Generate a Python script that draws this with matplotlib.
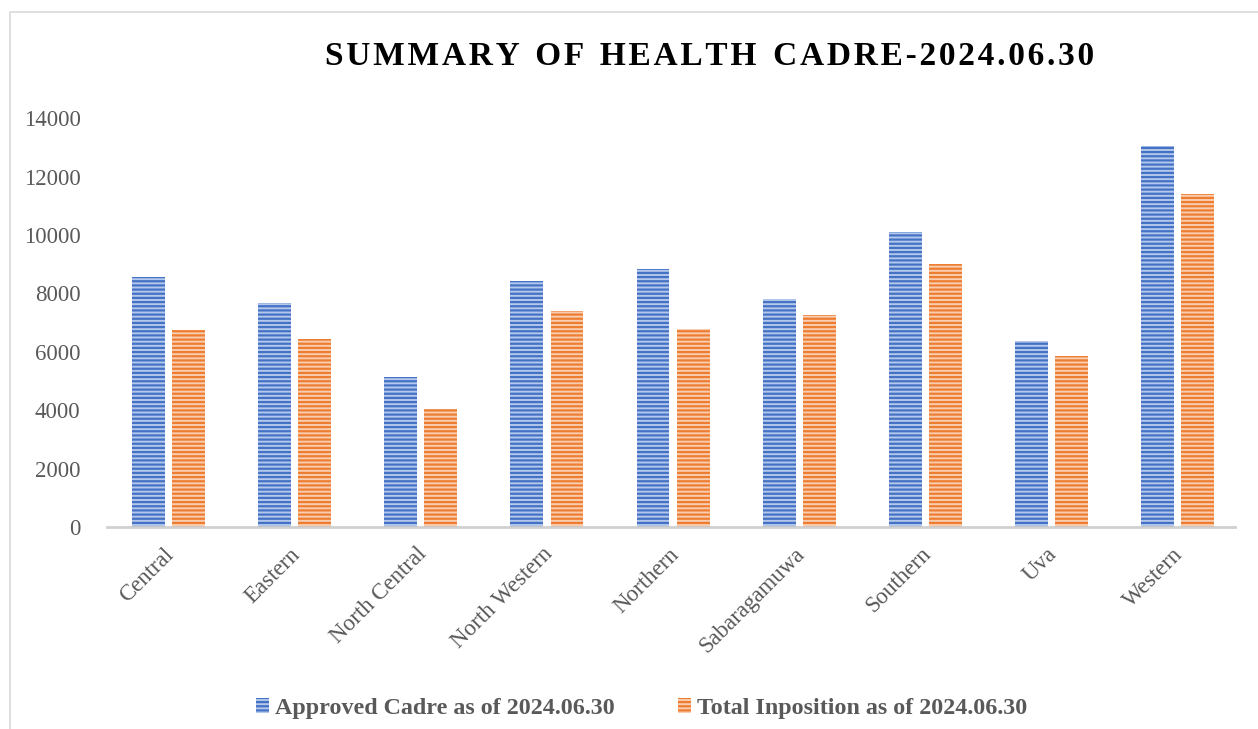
import matplotlib.pyplot as plt
import matplotlib.transforms as mtransforms
import numpy as np
from matplotlib.patches import Rectangle, Patch

regions = ["Central", "Eastern", "North Central", "North Western", "Northern",
           "Sabaragamuwa", "Southern", "Uva", "Western"]
approved = [8570, 7670, 5140, 8430, 8840, 7810, 10100, 6370, 13050]
inposition = [6750, 6450, 4040, 7400, 6780, 7260, 9010, 5860, 11400]
yticks = [0, 2000, 4000, 6000, 8000, 10000, 12000, 14000]

plt.rcParams['font.family'] = ['Liberation Serif', 'DejaVu Serif']
plt.rcParams['hatch.linewidth'] = 1.6

fig = plt.figure(figsize=(12.58, 7.29), dpi=100)
ax = fig.add_axes([0.085, 0.277, 0.897, 0.561])

# chart area border
fig.patches.append(Rectangle((10 / 1258, -0.01), 1.1, 1 - 12 / 729 + 0.01,
                             transform=fig.transFigure, fill=False,
                             edgecolor='#d9d9d9', linewidth=1.2))

x = np.arange(len(regions))
w = 0.26
off = 0.159
ax.bar(x - off, approved, w, color='#b4c7ec', edgecolor='#4472c4',
       hatch='----', linewidth=0, label='Approved Cadre as of 2024.06.30')
ax.bar(x + off, inposition, w, color='#f9cdb0', edgecolor='#ed7d31',
       hatch='----', linewidth=0, label='Total Inposition as of 2024.06.30')

ax.set_xlim(-0.488, 8.457)
ax.set_ylim(0, 14000)
ax.set_yticks(yticks)
ax.set_xticks(x)
ax.set_xticklabels(regions, rotation=45, ha='right', rotation_mode='anchor')
ax.tick_params(axis='both', length=0, labelsize=16.5, colors='#595959')
ax.tick_params(axis='y', pad=19)
ax.tick_params(axis='x', pad=12)
shift = mtransforms.ScaledTranslation(-5 / 100, 0, fig.dpi_scale_trans)
for lbl in ax.get_xticklabels():
    lbl.set_transform(lbl.get_transform() + shift)
for s in ['top', 'right', 'left']:
    ax.spines[s].set_visible(False)
ax.spines['bottom'].set_color('#d0d0d0')
ax.spines['bottom'].set_linewidth(2)

title = "SUMMARY OF HEALTH CADRE-2024.06.30"
fig.text(0.564, 1 - 65 / 729, "\u200a".join(title).replace("\u200a \u200a", "  "),
         ha='center', va='baseline', fontsize=24, fontweight='bold', color='black')

handles = [Patch(facecolor='#b4c7ec', edgecolor='#4472c4', hatch='----', linewidth=0),
           Patch(facecolor='#f9cdb0', edgecolor='#ed7d31', hatch='----', linewidth=0)]
fig.legend(handles, ['Approved Cadre as of 2024.06.30', 'Total Inposition as of 2024.06.30'],
           loc='center', bbox_to_anchor=(0.51, 0.028), ncol=2, frameon=False,
           prop={'size': 17.3, 'weight': 'bold'}, labelcolor='#595959',
           handlelength=0.55, handleheight=0.55, handletextpad=0.25, columnspacing=2.6)

fig.savefig('out.png', dpi=100)
